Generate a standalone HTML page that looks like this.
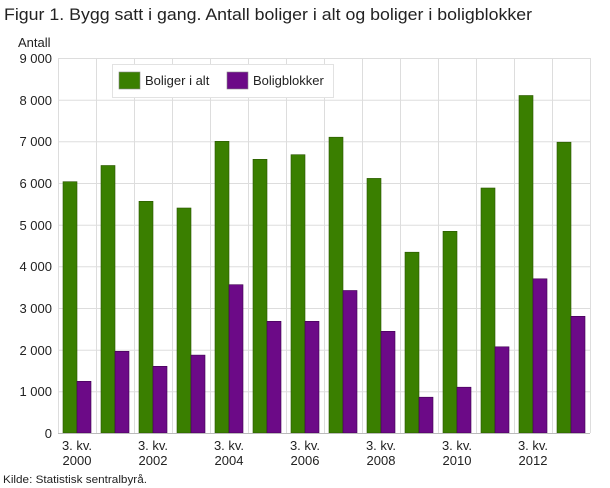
<!DOCTYPE html>
<html><head><meta charset="utf-8"><style>body{margin:0;background:#fff}svg{display:block}text{font-family:"Liberation Sans",sans-serif;fill:#222}</style></head><body>
<svg width="610" height="488" viewBox="0 0 610 488">
<text x="4" y="20" font-size="17" textLength="528" lengthAdjust="spacingAndGlyphs">Figur 1. Bygg satt i gang. Antall boliger i alt og boliger i boligblokker</text>
<text x="18" y="47" font-size="13">Antall</text>
<g stroke="#ddd" stroke-width="1">
<line x1="58" y1="58.5" x2="590" y2="58.5"/><line x1="58" y1="100.2" x2="590" y2="100.2"/><line x1="58" y1="141.8" x2="590" y2="141.8"/><line x1="58" y1="183.5" x2="590" y2="183.5"/><line x1="58" y1="225.2" x2="590" y2="225.2"/><line x1="58" y1="266.8" x2="590" y2="266.8"/><line x1="58" y1="308.5" x2="590" y2="308.5"/><line x1="58" y1="350.2" x2="590" y2="350.2"/><line x1="58" y1="391.8" x2="590" y2="391.8"/>
<line x1="58.5" y1="58" x2="58.5" y2="433"/><line x1="96.5" y1="58" x2="96.5" y2="433"/><line x1="134.5" y1="58" x2="134.5" y2="433"/><line x1="172.5" y1="58" x2="172.5" y2="433"/><line x1="210.5" y1="58" x2="210.5" y2="433"/><line x1="248.5" y1="58" x2="248.5" y2="433"/><line x1="286.5" y1="58" x2="286.5" y2="433"/><line x1="324.5" y1="58" x2="324.5" y2="433"/><line x1="362.5" y1="58" x2="362.5" y2="433"/><line x1="400.5" y1="58" x2="400.5" y2="433"/><line x1="438.5" y1="58" x2="438.5" y2="433"/><line x1="476.5" y1="58" x2="476.5" y2="433"/><line x1="514.5" y1="58" x2="514.5" y2="433"/><line x1="552.5" y1="58" x2="552.5" y2="433"/><line x1="590.5" y1="58" x2="590.5" y2="433"/>
</g>
<g font-size="13" text-anchor="end">
<text x="52" y="63">9 000</text><text x="52" y="105">8 000</text><text x="52" y="146">7 000</text><text x="52" y="188">6 000</text><text x="52" y="230">5 000</text><text x="52" y="271">4 000</text><text x="52" y="313">3 000</text><text x="52" y="355">2 000</text><text x="52" y="396">1 000</text><text x="52" y="438">0</text>
</g>
<g fill="#3a7f00" stroke="#2a5500" stroke-width="0.6">
<rect x="63" y="181.7" width="14" height="251.3"/><rect x="101" y="165.5" width="14" height="267.5"/><rect x="139" y="201.3" width="14" height="231.7"/><rect x="177" y="208" width="14" height="225"/><rect x="215" y="141.3" width="14" height="291.7"/><rect x="253" y="159.3" width="14" height="273.7"/><rect x="291" y="154.7" width="14" height="278.3"/><rect x="329" y="137.2" width="14" height="295.8"/><rect x="367" y="178.4" width="14" height="254.6"/><rect x="405" y="252.2" width="14" height="180.8"/><rect x="443" y="231.3" width="14" height="201.7"/><rect x="481" y="188" width="14" height="245"/><rect x="519" y="95.5" width="14" height="337.5"/><rect x="557" y="142.2" width="14" height="290.8"/>
</g>
<g fill="#6c0a87" stroke="#3f0050" stroke-width="0.6">
<rect x="77" y="381.3" width="14" height="51.7"/><rect x="115" y="351.3" width="14" height="81.7"/><rect x="153" y="366.3" width="14" height="66.7"/><rect x="191" y="355.1" width="14" height="77.9"/><rect x="229" y="284.7" width="14" height="148.3"/><rect x="267" y="321.3" width="14" height="111.7"/><rect x="305" y="321.3" width="14" height="111.7"/><rect x="343" y="290.5" width="14" height="142.5"/><rect x="381" y="331.3" width="14" height="101.7"/><rect x="419" y="397.2" width="14" height="35.8"/><rect x="457" y="387.2" width="14" height="45.8"/><rect x="495" y="346.8" width="14" height="86.2"/><rect x="533" y="278.8" width="14" height="154.2"/><rect x="571" y="316.3" width="14" height="116.7"/>
</g>
<line x1="58" y1="433.5" x2="590" y2="433.5" stroke="#bbb"/>
<g font-size="13" text-anchor="middle">
<text x="77" y="450">3. kv.</text><text x="77" y="465">2000</text>
<text x="153" y="450">3. kv.</text><text x="153" y="465">2002</text>
<text x="229" y="450">3. kv.</text><text x="229" y="465">2004</text>
<text x="305" y="450">3. kv.</text><text x="305" y="465">2006</text>
<text x="381" y="450">3. kv.</text><text x="381" y="465">2008</text>
<text x="457" y="450">3. kv.</text><text x="457" y="465">2010</text>
<text x="533" y="450">3. kv.</text><text x="533" y="465">2012</text>
</g>
<text x="3" y="483" font-size="11" textLength="144" lengthAdjust="spacingAndGlyphs">Kilde: Statistisk sentralbyrå.</text>
<rect x="112.5" y="64.5" width="221" height="33" fill="#fff" stroke="#e2e2e2"/>
<rect x="119" y="72" width="21" height="17" fill="#3a7f00" stroke="#888" stroke-width="0.6"/>
<text x="145" y="85" font-size="13">Boliger i alt</text>
<rect x="227" y="72" width="21" height="17" fill="#6c0a87" stroke="#888" stroke-width="0.6"/>
<text x="253" y="85" font-size="13">Boligblokker</text>
</svg>
</body></html>
